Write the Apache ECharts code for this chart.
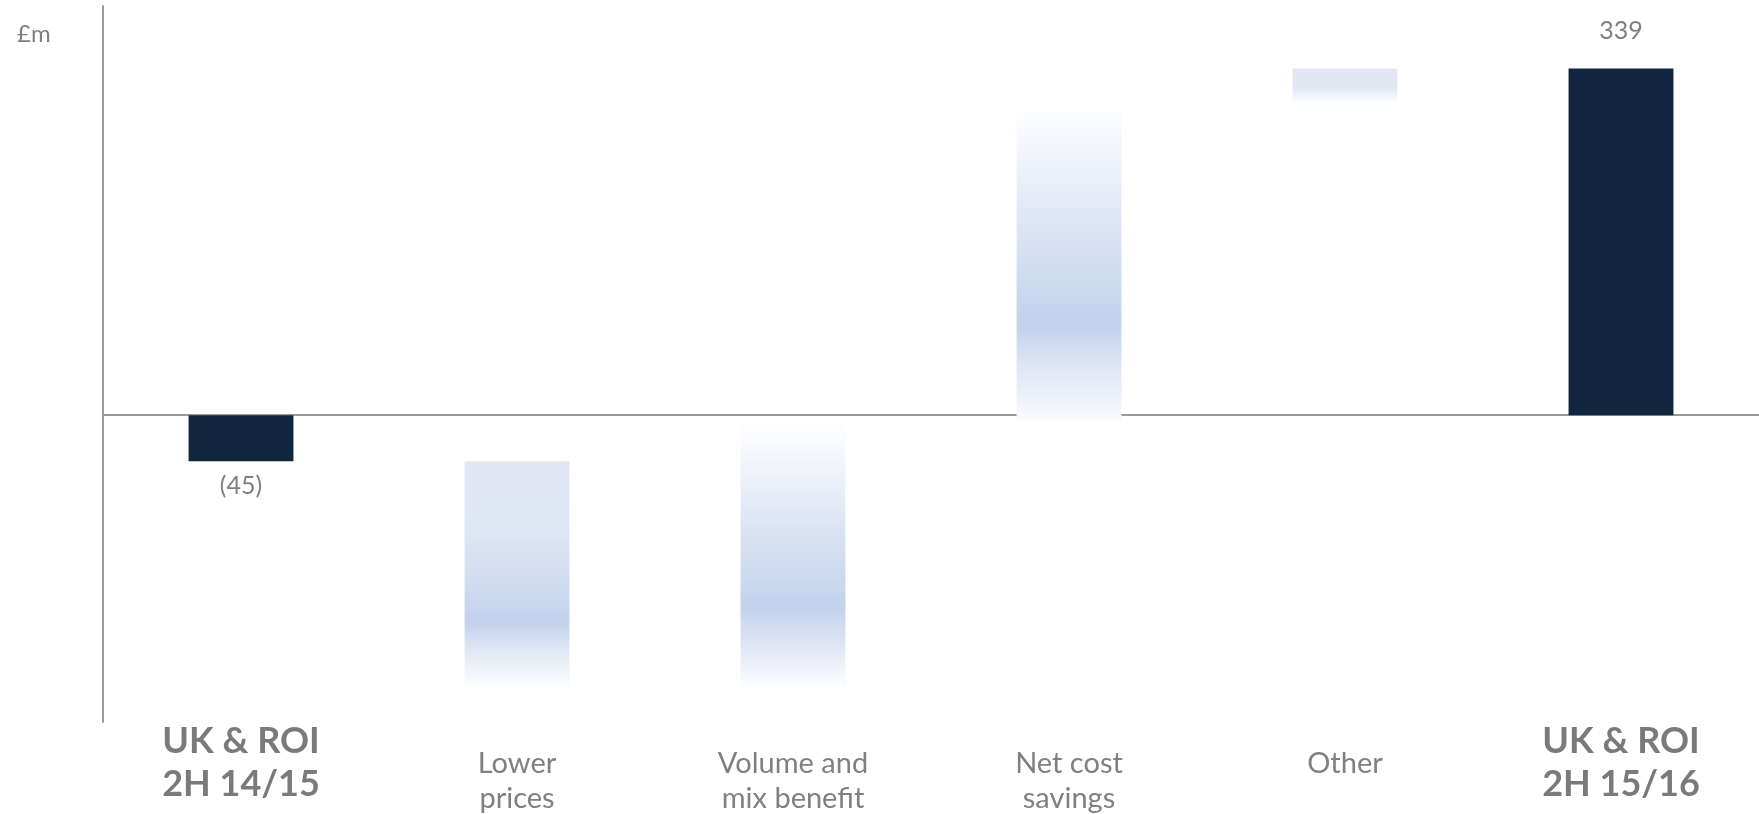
<!DOCTYPE html>
<html>
<head>
<meta charset="utf-8">
<script src="https://cdn.jsdelivr.net/npm/echarts@6/dist/echarts.min.js"></script>
<style>html,body{margin:0;padding:0;background:#fff;}#c{width:1759px;height:814px;}</style>
</head>
<body>
<div id="c"></div>
<script>
// ---- data ----
var categories = ['UK & ROI\n2H 14/15', 'Lower\nprices', 'Volume and\nmix benefit', 'Net cost\nsavings', 'Other', 'UK & ROI\n2H 15/16'];
var stepValues = [-45, -225, 265, 310, 34, 339];
var stepKinds = ['total', 'delta', 'delta', 'delta', 'delta', 'total'];
var valueLabels = ['(45)', '', '', '', '', '339'];
var unitLabel = '£m';

// ---- build waterfall ranges ----
var ranges = [];
var running = 0;
for (var i = 0; i < stepValues.length; i++) {
  if (stepKinds[i] === 'total') {
    ranges.push([i, 0, stepValues[i]]);
    running = stepValues[i];
  } else {
    ranges.push([i, running, running + stepValues[i]]);
    running += stepValues[i];
  }
}

var G = echarts.graphic.LinearGradient;
var dark = '#12253f';
var fills = [
  dark,
  new G(0, 0, 0, 1, [{offset: 0, color: '#e1e8f4'}, {offset: 0.3, color: '#dfe6f3'}, {offset: 0.5, color: '#d3ddf0'}, {offset: 0.7, color: '#c2d2ed'}, {offset: 0.85, color: '#e6ecf6'}, {offset: 1, color: '#ffffff'}]),
  new G(0, 0, 0, 1, [{offset: 0, color: '#ffffff'}, {offset: 0.15, color: '#f2f5fb'}, {offset: 0.4, color: '#dce4f3'}, {offset: 0.69, color: '#c2d2ed'}, {offset: 0.82, color: '#dde5f4'}, {offset: 1, color: '#ffffff'}]),
  new G(0, 0, 0, 1, [{offset: 0, color: '#ffffff'}, {offset: 0.15, color: '#f2f5fb'}, {offset: 0.4, color: '#dce4f3'}, {offset: 0.7, color: '#c2d2ed'}, {offset: 0.85, color: '#e2e9f5'}, {offset: 1, color: '#f8fafd'}]),
  new G(0, 0, 0, 1, [{offset: 0, color: '#e1e8f4'}, {offset: 0.55, color: '#e1e8f4'}, {offset: 1, color: '#ffffff'}]),
  dark
];

var FONT = 'Lato';
var chart = echarts.init(document.getElementById('c'), null, {renderer: 'canvas'});

function isTotal(idx) { return stepKinds[idx] === 'total'; }

var option = {
  animation: false,
  title: {
    text: unitLabel, left: 12, top: 17,
    textStyle: {fontSize: 24, fontWeight: 'normal', color: '#808080', fontFamily: FONT}
  },
  grid: {left: 103, right: 0, top: 6, bottom: 92, containLabel: false, outerBoundsMode: 'none'},
  xAxis: [
    {
      type: 'category', data: categories,
      axisLine: {onZero: true, lineStyle: {color: '#9a9a9a', width: 2}},
      axisTick: {show: false}, axisLabel: {show: false}
    },
    {
      type: 'category', data: categories, position: 'bottom',
      axisLine: {show: false, onZero: false}, axisTick: {show: false},
      axisLabel: {
        interval: 0, margin: -2, color: '#7a7a7a', fontFamily: FONT, fontSize: 36, fontWeight: 'bold', lineHeight: 43,
        formatter: function (v, idx) { return isTotal(idx) ? v : ''; }
      }
    },
    {
      type: 'category', data: categories, position: 'bottom',
      axisLine: {show: false, onZero: false}, axisTick: {show: false},
      axisLabel: {
        interval: 0, margin: 24, color: '#808080', fontFamily: FONT, fontSize: 29, lineHeight: 35,
        formatter: function (v, idx) { return isTotal(idx) ? '' : v; }
      }
    }
  ],
  yAxis: {
    type: 'value', min: -300, max: 400,
    axisLine: {show: true, lineStyle: {color: '#9a9a9a', width: 2}},
    axisTick: {show: false}, axisLabel: {show: false}, splitLine: {show: false}
  },
  series: [{
    type: 'custom',
    xAxisIndex: 0,
    data: ranges,
    encode: {x: 0, y: [1, 2]},
    renderItem: function (params, api) {
      var idx = api.value(0), from = api.value(1), to = api.value(2);
      var p1 = api.coord([idx, from]), p2 = api.coord([idx, to]);
      var w = api.size([1, 0])[0] * 0.38;
      var top = Math.min(p1[1], p2[1]), bottom = Math.max(p1[1], p2[1]);
      var children = [{
        type: 'rect',
        shape: {x: p1[0] - w / 2, y: top, width: w, height: bottom - top},
        style: {fill: fills[idx]}
      }];
      var lab = valueLabels[idx];
      if (lab) {
        var neg = to < from;
        children.push({
          type: 'text',
          style: {
            text: lab, x: p1[0], y: neg ? bottom + 25 : top - 37,
            align: 'center', verticalAlign: 'middle',
            fill: '#808080', fontSize: 25, fontFamily: FONT
          }
        });
      }
      return {type: 'group', children: children};
    }
  }]
};
chart.setOption(option);
</script>
</body>
</html>
